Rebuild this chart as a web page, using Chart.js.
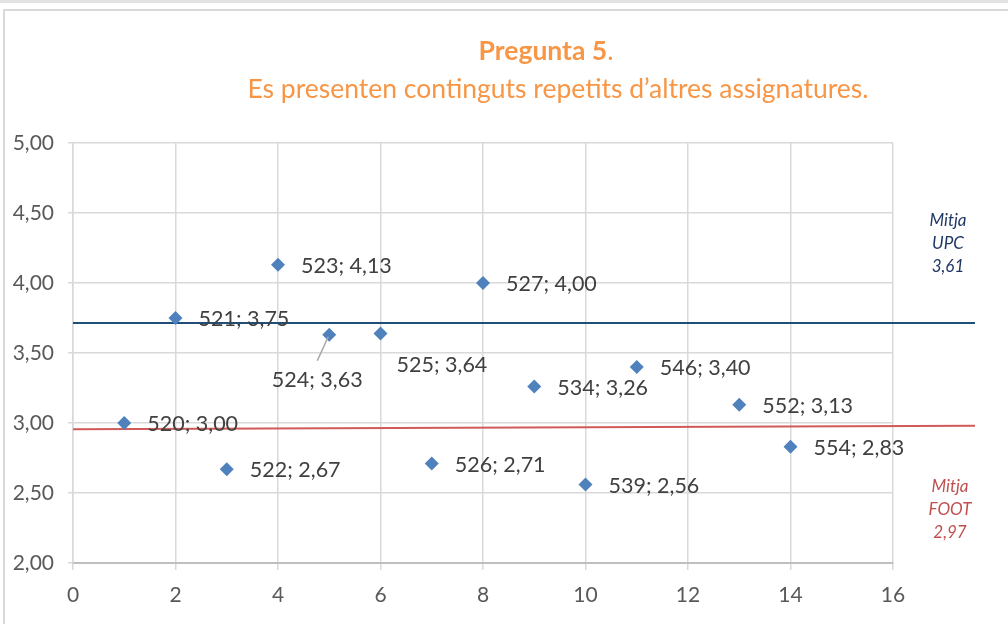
<!DOCTYPE html>
<html>
<head>
<meta charset="utf-8">
<script src="https://cdn.jsdelivr.net/npm/chart.js@4.4.0/dist/chart.umd.min.js"></script>
<style>
    html, body { margin: 0; padding: 0; background: #fff; }
    #wrap { position: relative; width: 1008px; height: 624px; overflow: hidden; }
    #topline { position: absolute; left: 0; top: 0; width: 1008px; height: 3px; background: #e3e3e3; }
    #frame { position: absolute; left: 3px; top: 9px; width: 1100px; height: 700px; border: 2px solid #d9d9d9; }
    canvas { position: absolute; left: 0; top: 0; }
</style>
</head>
<body>
<div id="wrap">
    <div id="topline"></div>
    <div id="frame"></div>
    <canvas id="chart" width="1008" height="624"></canvas>
</div>
<script>
// dades de la pregunta 5

var codis = ['520', '521', '522', '523', '524', '525', '526', '527', '534', '539', '546', '552', '554'];
var xValors = [1, 2, 3, 4, 5, 6, 7, 8, 9, 10, 11, 13, 14];
var yValors = [3.00, 3.75, 2.67, 4.13, 3.63, 3.64, 2.71, 4.00, 3.26, 2.56, 3.40, 3.13, 2.83];

// linies de mitjana (tal com es veuen dibuixades) i els seus rotuls
var mitjaUpcLinia = [3.715, 3.715];
var mitjaFootLinia = [2.955, 2.98];
var mitjaLiniaX = [0, 17.6];
var mitjaUpcText = ['Mitja', 'UPC', '3,61'];
var mitjaFootText = ['Mitja', 'FOOT', '2,97'];

var xTicks = [0, 2, 4, 6, 8, 10, 12, 14, 16];
var yTicks = [2.0, 2.5, 3.0, 3.5, 4.0, 4.5, 5.0];

var titol1 = 'Pregunta 5';
var titol2 = 'Es presenten continguts repetits d\u2019altres assignatures.';

var FONT = 'Lato, "Open Sans", sans-serif';

function formatComa(v) {
    return v.toFixed(2).replace('.', ',');
}

// posicio de cada etiqueta respecte al punt
function posicioEtiqueta(codi) {
    if (codi == '524') return 'below';
    if (codi == '525') return 'belowRight';
    return 'right';
}

var titolPlugin = {
    id: 'titolPlugin',
    afterDraw: function (chart) {
        let ctx = chart.ctx;
        ctx.save();
        ctx.fillStyle = '#F79646';
        ctx.textBaseline = 'alphabetic';

        ctx.font = 'bold 26.5px ' + FONT;
        let w1 = ctx.measureText(titol1).width;
        ctx.font = '26.5px ' + FONT;
        let wDot = ctx.measureText('.').width;
        let x1 = 546 - (w1 + wDot) / 2;
        ctx.font = 'bold 26.5px ' + FONT;
        ctx.textAlign = 'left';
        ctx.fillText(titol1, x1, 60);
        ctx.font = '26.5px ' + FONT;
        ctx.fillText('.', x1 + w1, 60);

        ctx.textAlign = 'center';
        ctx.fillText(titol2, 558, 98);
        ctx.restore();
    }
};

var etiquetesPlugin = {
    id: 'etiquetesPlugin',
    afterDatasetsDraw: function (chart) {
        let ctx = chart.ctx;
        let meta = chart.getDatasetMeta(0);
        ctx.save();
        ctx.font = '21.5px ' + FONT;
        ctx.fillStyle = '#404040';
        ctx.textBaseline = 'middle';

        for (let i = 0; i < meta.data.length; i++) {
            let p = meta.data[i];
            let text = codis[i] + '; ' + formatComa(yValors[i]);
            let pos = posicioEtiqueta(codis[i]);

            if (pos == 'right') {
                ctx.textAlign = 'left';
                ctx.fillText(text, p.x + 23, p.y + 1);
            } else if (pos == 'below') {
                // linia guia
                ctx.strokeStyle = '#a6a6a6';
                ctx.lineWidth = 1.5;
                ctx.beginPath();
                ctx.moveTo(p.x - 1, p.y + 2);
                ctx.lineTo(p.x - 12, p.y + 26);
                ctx.stroke();
                ctx.textAlign = 'center';
                ctx.fillText(text, p.x - 12, p.y + 45);
            } else {
                ctx.textAlign = 'left';
                ctx.fillText(text, p.x + 16, p.y + 32);
            }
        }

        // rotuls de les mitjanes
        let area = chart.chartArea;
        let yScale = chart.scales.y;
        ctx.font = 'italic 17px ' + FONT;
        ctx.textAlign = 'center';
        let cx = area.right + 55;

        ctx.fillStyle = '#1F3864';
        let yUpc = yScale.getPixelForValue(4.28);
        for (let k = 0; k < mitjaUpcText.length; k++) {
            ctx.fillText(mitjaUpcText[k], cx, yUpc + (k - 1) * 23);
        }

        ctx.fillStyle = '#C0504D';
        let yFoot = yScale.getPixelForValue(2.38);
        for (let k = 0; k < mitjaFootText.length; k++) {
            ctx.fillText(mitjaFootText[k], cx + 2, yFoot + (k - 1) * 23);
        }
        ctx.restore();
    }
};

let punts = [];
for (let i = 0; i < codis.length; i++) {
    punts.push({ x: xValors[i], y: yValors[i] });
}

let data = {
    datasets: [{
        label: 'Pregunta 5',
        data: punts,
        pointStyle: 'rectRot',
        pointRadius: 7,
        pointHoverRadius: 7,
        backgroundColor: '#4F81BD',
        borderColor: '#4F81BD',
        borderWidth: 0,
        showLine: false,
        order: 1
    }, {
        label: 'Mitja UPC',
        type: 'line',
        data: [{ x: mitjaLiniaX[0], y: mitjaUpcLinia[0] }, { x: mitjaLiniaX[1], y: mitjaUpcLinia[1] }],
        borderColor: '#1F4E79',
        borderWidth: 2,
        pointRadius: 0,
        clip: false,
        order: 2
    }, {
        label: 'Mitja FOOT',
        type: 'line',
        data: [{ x: mitjaLiniaX[0], y: mitjaFootLinia[0] }, { x: mitjaLiniaX[1], y: mitjaFootLinia[1] }],
        borderColor: '#D05A57',
        borderWidth: 2,
        pointRadius: 0,
        clip: false,
        order: 2
    }]
};

let options = {
    responsive: false,
    animation: false,
    devicePixelRatio: 1,
    layout: {
        padding: { top: 143, right: 115, bottom: 0, left: 0 }
    },
    scales: {
        x: {
            type: 'linear',
            min: 0,
            max: 16,
            afterFit: function (scale) { scale.height = 61; },
            afterBuildTicks: function (scale) {
                scale.ticks = xTicks.map(function (v) { return { value: v }; });
            },
            ticks: {
                color: '#595959',
                font: { family: FONT, size: 21 },
                padding: 13
            },
            grid: { color: '#d9d9d9', lineWidth: 1.5, tickLength: 7 },
            border: { color: '#bfbfbf', width: 2 }
        },
        y: {
            min: 2,
            max: 5,
            afterFit: function (scale) { scale.width = 73; },
            afterBuildTicks: function (scale) {
                scale.ticks = yTicks.map(function (v) { return { value: v }; });
            },
            ticks: {
                color: '#595959',
                font: { family: FONT, size: 21 },
                padding: 14,
                callback: function (v) { return formatComa(v); }
            },
            grid: { color: '#d9d9d9', lineWidth: 1.5, tickLength: 5 },
            border: { color: '#d9d9d9', width: 1.5 }
        }
    },
    plugins: {
        legend: { display: false },
        tooltip: { enabled: false },
        title: { display: false }
    }
};

let ctx = document.getElementById('chart').getContext('2d');
let chart = new Chart(ctx, {
    type: 'scatter',
    data: data,
    options: options,
    plugins: [titolPlugin, etiquetesPlugin]
});
</script>
</body>
</html>
